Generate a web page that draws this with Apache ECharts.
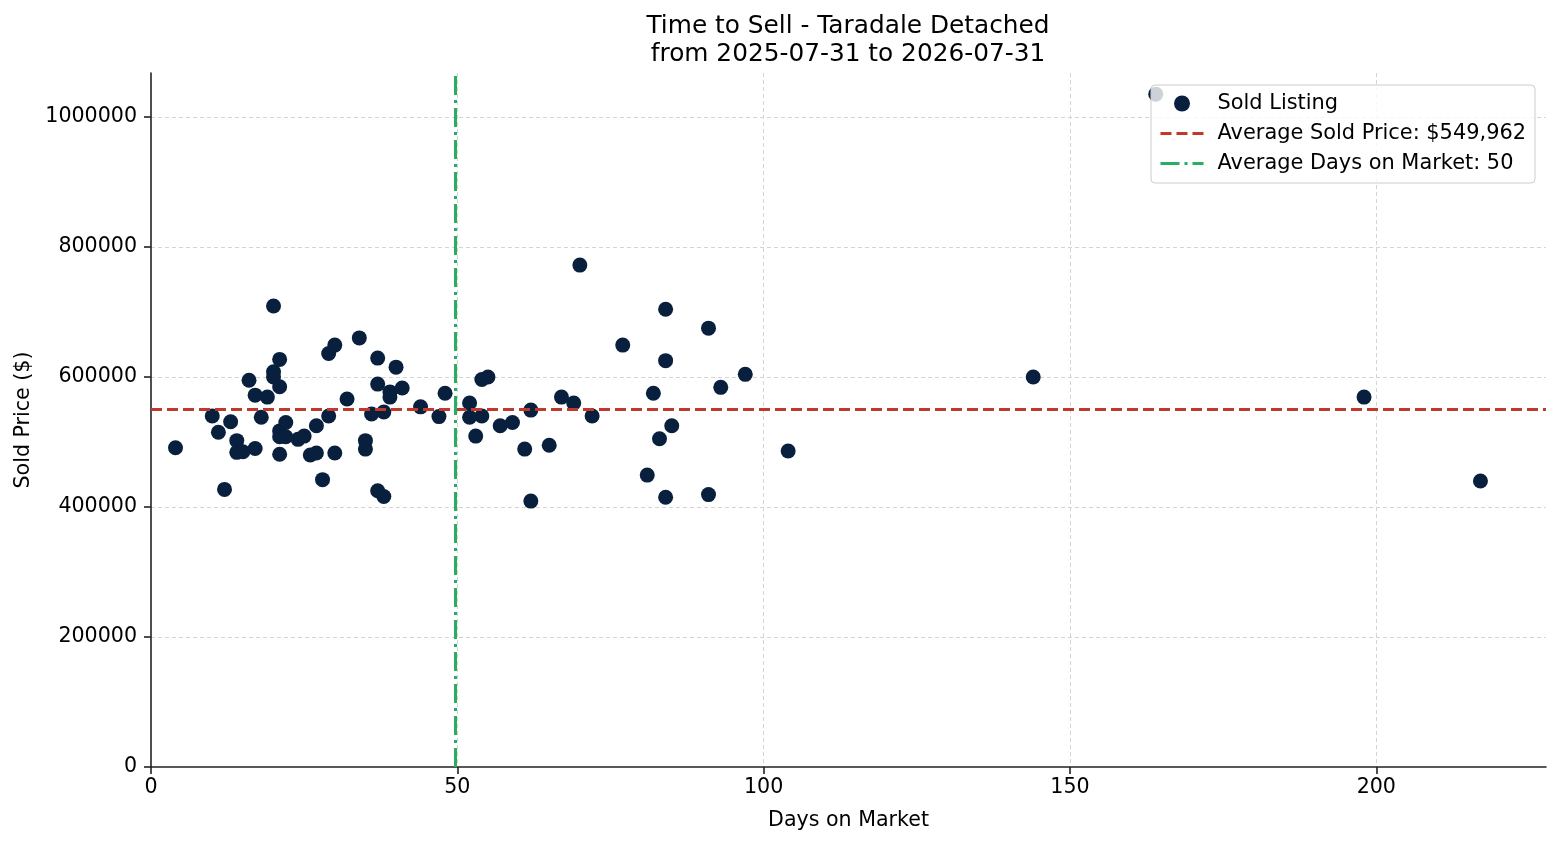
<!DOCTYPE html>
<html>
<head>
<meta charset="utf-8">
<script src="https://cdn.jsdelivr.net/npm/echarts@6/dist/echarts.min.js"></script>
<style>html,body{margin:0;padding:0;background:#fff}#c{width:1560px;height:845px}</style>
</head>
<body>
<div id="c"></div>
<script>
// Days on market for each sold listing
const daysOnMarket = [
  4, 10, 11, 12, 13, 14, 14, 15, 16, 17, 17, 18, 19, 20, 20, 20,
  21, 21, 21, 21, 21, 22, 22, 24, 25, 26, 27, 27, 28, 29, 29, 30, 30,
  32, 34, 35, 35, 36, 37, 37, 37, 38, 38, 39, 39, 40, 41, 44, 47, 48,
  52, 52, 53, 54, 55, 54, 57, 59, 61, 62, 62, 65, 67, 69, 72,
  70, 77, 81, 82, 83, 84, 84, 84, 85, 91, 91, 93, 97, 104,
  144, 164, 198, 217
];
// Sold price for each sold listing (same order)
const soldPrices = [
  491000, 540000, 515000, 427000, 531000, 502000, 484000, 485000, 595000, 572000, 490000, 538000, 569000, 709000, 608000, 600000,
  627000, 585000, 517000, 508000, 481000, 530000, 508000, 504000, 509000, 480000, 525000, 483000, 442000, 540000, 636000, 649000, 483000,
  566000, 660000, 502000, 489000, 543000, 629000, 589000, 425000, 416000, 546000, 577000, 569000, 615000, 583000, 554000, 539000, 575000,
  560000, 538000, 509000, 596000, 600000, 540000, 525000, 530000, 489000, 549000, 409000, 495000, 569000, 560000, 540000,
  772000, 649000, 449000, 575000, 505000, 704000, 625000, 415000, 525000, 675000, 419000, 584000, 604000, 486000,
  600000, 1035000, 569000, 440000
];
const avgSoldPrice = 549962;
const avgDaysOnMarket = 49.7;
const xAxisMax = 227.7;
const yAxisMax = 1067500;
const xTickStep = 50;
const yTickStep = 200000;

const titleText = 'Time to Sell - Taradale Detached\nfrom 2025-07-31 to 2026-07-31';
const seriesNames = [
  'Sold Listing',
  'Average Sold Price: $' + avgSoldPrice.toLocaleString('en-US'),
  'Average Days on Market: ' + Math.round(avgDaysOnMarket)
];

const points = daysOnMarket.map((d, i) => [d, soldPrices[i]]);
const FONT = 'DejaVu Sans';
const FS = 20.6;

const chart = echarts.init(document.getElementById('c'), null, {renderer: 'canvas'});
const axisCommon = {
  type: 'value',
  axisLine: {show: true, lineStyle: {color: '#222', width: 1.6}},
  axisTick: {show: true, inside: false, length: 7, lineStyle: {color: '#222', width: 1.6}},
  axisLabel: {color: '#000', fontFamily: FONT, fontSize: FS, showMaxLabel: false},
  splitLine: {show: true, showMinLine: false, showMaxLine: false,
    lineStyle: {color: '#d4d4d4', width: 1, type: [4, 3]}},
  nameLocation: 'middle',
  nameTextStyle: {color: '#000', fontFamily: FONT, fontSize: FS}
};

chart.setOption({
  animation: false,
  backgroundColor: '#fff',
  title: {
    text: titleText,
    left: 848, top: 13, textAlign: 'center', padding: 0,
    textStyle: {fontFamily: FONT, fontSize: 24.8, fontWeight: 'normal', lineHeight: 28, color: '#000'}
  },
  grid: {left: 151, right: 14, top: 73, bottom: 78, containLabel: false},
  xAxis: Object.assign({}, axisCommon, {
    min: 0, max: xAxisMax, interval: xTickStep,
    name: 'Days on Market', nameGap: 43,
    axisLabel: Object.assign({}, axisCommon.axisLabel, {margin: 10})
  }),
  yAxis: Object.assign({}, axisCommon, {
    min: 0, max: yAxisMax, interval: yTickStep,
    name: 'Sold Price ($)', nameGap: 114,
    axisLabel: Object.assign({}, axisCommon.axisLabel, {margin: 14, formatter: v => String(v)})
  }),
  legend: {
    orient: 'vertical', right: 25, top: 85,
    itemWidth: 43, itemHeight: 16, itemGap: 9,
    padding: [8, 9, 9, 8],
    backgroundColor: 'rgba(255,255,255,0.8)',
    borderColor: '#cccccc', borderWidth: 1, borderRadius: 4,
    textStyle: {fontFamily: FONT, fontSize: 20.9, color: '#000', padding: [0, 0, 0, 9]},
    data: [
      {name: seriesNames[0]},
      {name: seriesNames[1], itemStyle: {opacity: 0}, lineStyle: {width: 3}},
      {name: seriesNames[2], itemStyle: {opacity: 0}, lineStyle: {width: 3}}
    ],
    z: 10
  },
  series: [
    {
      name: seriesNames[0], type: 'scatter', data: points,
      symbol: 'circle', symbolSize: 15,
      itemStyle: {color: '#08203e', opacity: 1},
      z: 2
    },
    {
      name: seriesNames[1], type: 'line',
      data: [[0, avgSoldPrice], [xAxisMax, avgSoldPrice]],
      symbol: 'none', silent: true,
      itemStyle: {color: '#c0392b'},
      lineStyle: {color: '#c0392b', width: 3, type: [11, 5]},
      z: 3
    },
    {
      name: seriesNames[2], type: 'line',
      data: [[avgDaysOnMarket, 0], [avgDaysOnMarket, yAxisMax]],
      symbol: 'none', silent: true,
      itemStyle: {color: '#27ae60'},
      lineStyle: {color: '#27ae60', width: 3, type: [19, 5, 3, 5]},
      z: 3
    }
  ]
});
</script>
</body>
</html>
